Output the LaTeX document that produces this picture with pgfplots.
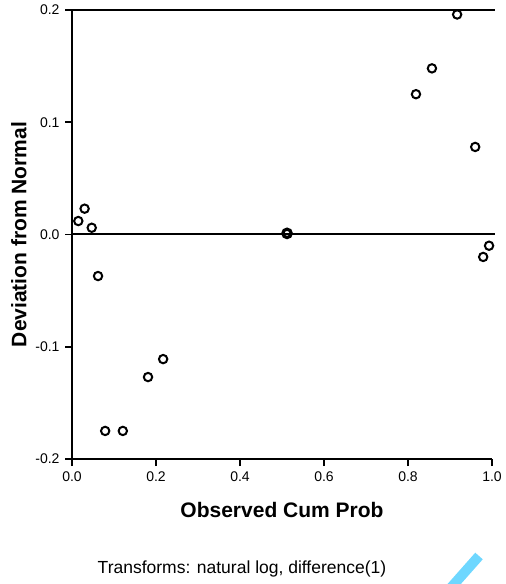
\documentclass[border=0pt]{standalone}
\usepackage{fontspec}
\setmainfont{Liberation Sans}
\usepackage{pgfplots}
\pgfplotsset{compat=1.18}
\definecolor{strokeblue}{RGB}{110,215,255}
\begin{document}
\begin{tikzpicture}
\begin{axis}[
  at={(0pt,0pt)}, anchor=south west,
  scale only axis, width=420pt, height=449pt,
  xmin=0, xmax=1, ymin=-0.2, ymax=0.2,
  axis x line*=bottom, axis y line*=left,
  axis line style={line width=2pt},
  clip=false,
  xtick={0,0.2,0.4,0.6,0.8,1.0},
  ytick={-0.2,-0.1,0,0.1,0.2},
  tick align=outside,
  major tick length=7pt,
  major tick style={black, line width=1.6pt},
  /pgf/number format/assume math mode=true,
  xticklabel={\pgfmathprintnumber[fixed,fixed zerofill,precision=1]{\tick}},
  yticklabel={\pgfmathprintnumber[fixed,fixed zerofill,precision=1]{\tick}},
  tick label style={font=\fontsize{14}{14}\selectfont},
  xticklabel style={yshift=-2pt},
  yticklabel style={xshift=-2pt},
  xlabel={Observed Cum Prob},
  ylabel={Deviation from Normal},
  label style={font=\fontsize{21}{21}\selectfont\bfseries},
  xlabel style={yshift=-14pt},
  ylabel style={yshift=2pt},
]
\addplot[black, line width=2pt, forget plot] coordinates {(0,0.2) (1.007,0.2)};
\addplot[black, line width=2pt, forget plot] coordinates {(0,0) (1.007,0)};
\addplot[only marks, mark=o, mark size=4.2pt, mark options={line width=2pt, black}] coordinates {
  (0.015,0.012) (0.030,0.023) (0.047,0.006)
  (0.062,-0.037) (0.079,-0.175) (0.121,-0.175)
  (0.181,-0.127) (0.217,-0.111)
  (0.819,0.125) (0.857,0.148) (0.917,0.196)
  (0.960,0.078) (0.979,-0.020) (0.993,-0.010)
};
\addplot[only marks, mark=o, mark size=4.2pt, mark options={line width=3.2pt, black}] coordinates {(0.512,0.001)};
\end{axis}
\node[font=\fontsize{17.5}{17.5}\selectfont] at (170pt,-110pt) {Transforms: natural log, difference(1)};
\begin{scope}
\clip (-72pt,-125pt) rectangle (430pt,459pt);
\draw[strokeblue, line width=10pt] (407pt,-97pt) -- (376pt,-132pt);
\end{scope}
\end{tikzpicture}
\end{document}
